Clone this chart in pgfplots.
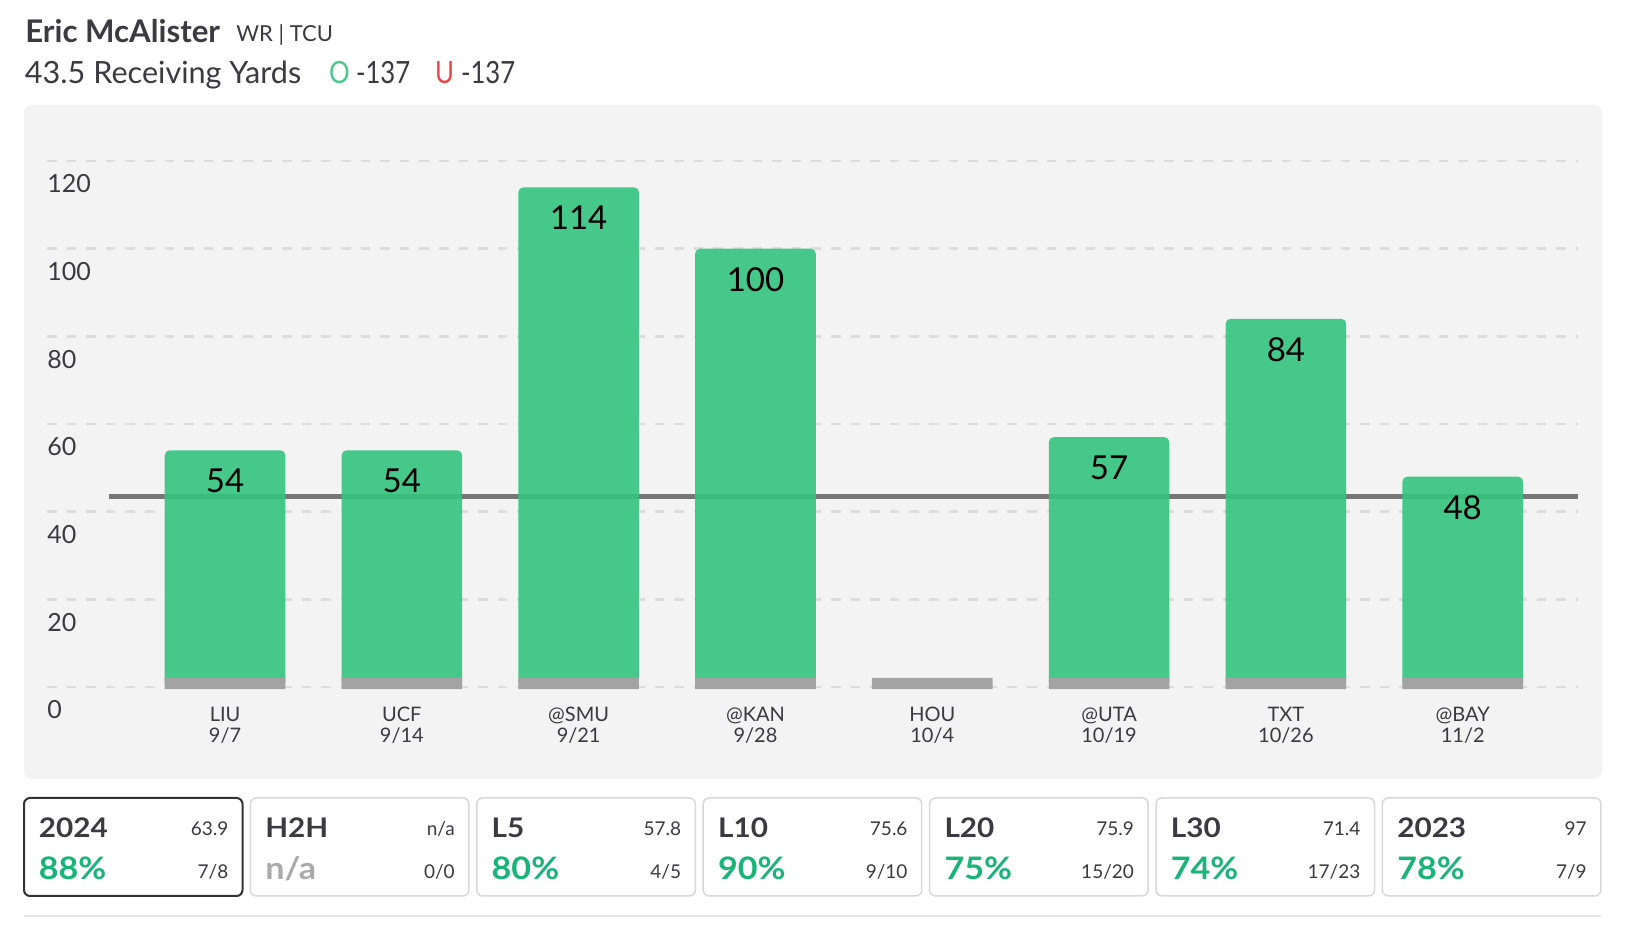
\documentclass[border=0pt]{standalone}
\usepackage{pgfplots}
\pgfplotsset{compat=1.18}
\usepackage{fontspec}
\setmainfont{Lato}
\newfontfamily\widefont{Lato}[FakeStretch=1.1]
\newfontfamily\narrowfont{Lato}[FakeStretch=0.84]
\definecolor{bargreen}{RGB}{51,196,127}
\definecolor{pctgreen}{RGB}{24,180,120}
\definecolor{panel}{RGB}{243,243,243}
\definecolor{gridc}{RGB}{220,220,220}
\definecolor{txt}{RGB}{58,58,64}
\definecolor{basegray}{RGB}{163,163,163}
\definecolor{linegray}{RGB}{118,118,118}
\definecolor{boxgray}{RGB}{216,216,216}
\definecolor{boxdark}{RGB}{50,50,55}
\definecolor{nagray}{RGB}{170,170,170}
\definecolor{ored}{RGB}{235,70,70}
\definecolor{ogreen}{RGB}{70,201,139}
\definecolor{sepgray}{RGB}{229,229,229}

\newcommand\statbox[7]{%
 \pgfmathsetmacro\bx{12+113.2*#1}%
 \draw[#6, rounded corners=3pt] (\bx,20) rectangle ++(109.25,49);
 \node[anchor=base west, inner sep=0pt, text=txt, font=\widefont\fontsize{13.5}{15}\selectfont\bfseries] at (\bx+7.25,49.1) {#2};
 \node[anchor=base east, inner sep=0pt, text=txt, font=\fontsize{9.5}{11}\selectfont] at (\bx+102.35,50) {#3};
 \node[anchor=base west, inner sep=0pt, text=#7, font=\widefont\fontsize{15.5}{17}\selectfont\bfseries] at (\bx+7.25,28.15) {#4};
 \node[anchor=base east, inner sep=0pt, text=txt, font=\fontsize{9.5}{11}\selectfont] at (\bx+102.35,28.8) {#5};
}

\begin{document}
\begin{tikzpicture}[x=1pt,y=1pt]
\useasboundingbox (0,0) rectangle (815,468);
\fill[white] (0,0) rectangle (815,468);
\fill[panel, rounded corners=4pt] (12,78.5) rectangle (801,415.5);
% header
\node[anchor=base west, inner sep=0pt, text=txt, font=\fontsize{15.6}{17}\selectfont\bfseries] at (12.5,446.6) {Eric McAlister};
\node[anchor=base west, inner sep=0pt, text=txt, font=\fontsize{11}{12}\selectfont] at (118,447.2) {WR | TCU};
\node[anchor=base west, inner sep=0pt, text=txt, font=\fontsize{15.3}{17}\selectfont] at (12.3,426.3) {43.5 Receiving Yards};
\node[anchor=base west, inner sep=0pt, text=ogreen, font=\narrowfont\fontsize{15.3}{17}\selectfont] at (164.3,426.3) {O};
\node[anchor=base west, inner sep=0pt, text=txt, font=\narrowfont\fontsize{15.3}{17}\selectfont] at (177.8,426.3) {-137};
\node[anchor=base west, inner sep=0pt, text=ored, font=\narrowfont\fontsize{15.3}{17}\selectfont] at (217.3,426.3) {U};
\node[anchor=base west, inner sep=0pt, text=txt, font=\narrowfont\fontsize{15.3}{17}\selectfont] at (230.3,426.3) {-137};

\begin{axis}[
  at={(23.5pt,124.5pt)}, anchor=south west, scale only axis,
  width=765.5pt, height=263pt,
  xmin=-1.007, xmax=7.652, ymin=0, ymax=120,
  axis line style={draw=none},
  ytick={0,20,...,120},
  xtick={0,...,7},
  xticklabels={{LIU\\9/7},{UCF\\9/14},{@SMU\\9/21},{@KAN\\9/28},{HOU\\10/4},{@UTA\\10/19},{TXT\\10/26},{@BAY\\11/2}},
  xticklabel style={align=center, font=\fontsize{10}{10.8}\selectfont, text=txt, inner sep=0pt, yshift=-9.7pt},
  yticklabel style={anchor=west, inner sep=0pt, yshift=-11.5pt, font=\fontsize{12.5}{14}\selectfont, text=txt},
  /pgf/number format/assume math mode=true,
  major tick length=0pt,
  tick style={draw=none},
  ymajorgrids, xmajorgrids=false,
  grid style={gridc, line width=1.3pt, dash pattern=on 4.8pt off 5pt},
  clip=false,
]
\addplot[linegray, line width=2.6pt, forget plot] coordinates {(-0.657,43.5) (7.652,43.5)};
\addplot[ybar, bar width=60.3pt, bar shift=0pt, fill=bargreen, fill opacity=0.9, draw=none, rounded corners=2.5pt,
  nodes near coords,
  every node near coord/.style={text=black, text opacity=1, fill opacity=1, font=\fontsize{16.5}{18}\selectfont, anchor=center, yshift=-15.3pt, inner sep=0pt}]
  coordinates {(0,54) (1,54) (2,114) (3,100) (5,57) (6,84) (7,48)};
\addplot[ybar, bar width=60.3pt, bar shift=0pt, fill=basegray, draw=none]
  coordinates {(0,2.1) (1,2.1) (2,2.1) (3,2.1) (4,2.1) (5,2.1) (6,2.1) (7,2.1)};
\addplot[ybar, bar width=60.3pt, bar shift=0pt, fill=basegray, draw=none]
  coordinates {(0,-0.5) (1,-0.5) (2,-0.5) (3,-0.5) (4,-0.5) (5,-0.5) (6,-0.5) (7,-0.5)};
\end{axis}

\statbox{0}{2024}{63.9}{88\%}{7/8}{boxdark, line width=1pt}{pctgreen}
\statbox{1}{H2H}{n/a}{n/a}{0/0}{boxgray, line width=0.75pt}{nagray}
\statbox{2}{L5}{57.8}{80\%}{4/5}{boxgray, line width=0.75pt}{pctgreen}
\statbox{3}{L10}{75.6}{90\%}{9/10}{boxgray, line width=0.75pt}{pctgreen}
\statbox{4}{L20}{75.9}{75\%}{15/20}{boxgray, line width=0.75pt}{pctgreen}
\statbox{5}{L30}{71.4}{74\%}{17/23}{boxgray, line width=0.75pt}{pctgreen}
\statbox{6}{2023}{97}{78\%}{7/9}{boxgray, line width=0.75pt}{pctgreen}
\draw[sepgray, line width=1pt] (12,10) -- (800.5,10);
\end{tikzpicture}
\end{document}
